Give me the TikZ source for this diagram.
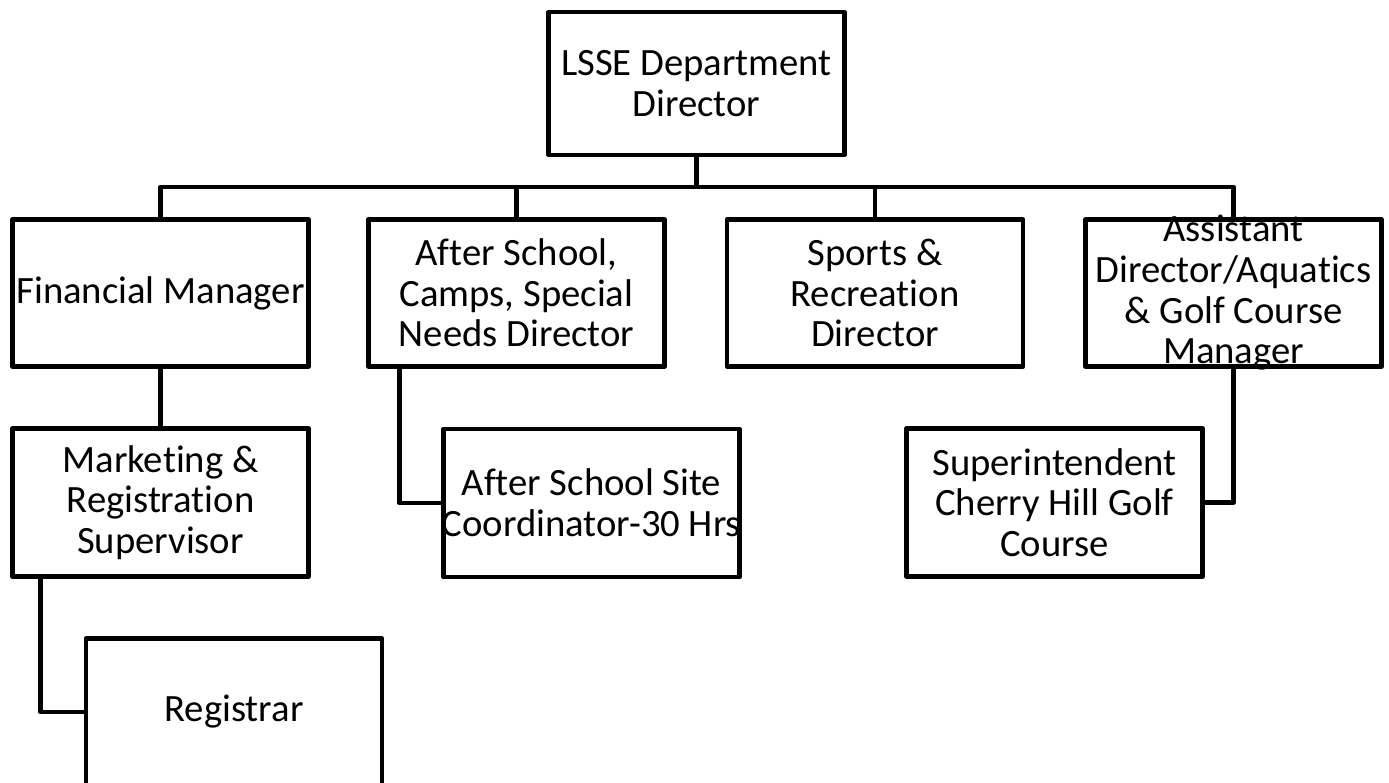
\documentclass[tikz,border=0pt]{standalone}
\usepackage{fontspec}
\setmainfont{Carlito}[Ligatures=CommonOff]
\usetikzlibrary{calc}

% text of a box, centred and free to run over the frame
\newcommand{\boxtext}[1]{\vbox to 0pt{\vss\hsize=222pt\centering
  \leftskip=-20pt plus 1fil\relax\rightskip=-20pt plus 1fil\relax #1\par\vss}}

\tikzset{
  unit/.style={draw, line width=3.4pt, line join=round, inner sep=0pt, minimum width=222pt, minimum height=110pt},
  link/.style={line width=3.4pt, line join=round},
}

\begin{document}
\begin{tikzpicture}[x=0.75pt,y=0.75pt,yscale=-1,xscale=1, font=\fontsize{29}{30.5}\selectfont]
\useasboundingbox (0,0) rectangle (1389,782);

%Shape: Rectangle [id:dir]
\node [unit, minimum height=107pt] (dir) at (696.5,83.5) {\boxtext{LSSE Department\\Director}};

%Shape: Rectangle [id:fin]
\node [unit] (fin) at (160.5,293) {\boxtext{Financial Manager}};
%Shape: Rectangle [id:after]
\node [unit] (after) at (516.5,293) {\boxtext{After School,\\Camps, Special\\Needs Director}};
%Shape: Rectangle [id:sports]
\node [unit] (sports) at (875,293) {\boxtext{Sports \&\\Recreation\\Director}};
%Shape: Rectangle [id:asst]
\node [unit] (asst) at (1233.5,293) {\boxtext{Assistant\\Director/Aquatics\\\& Golf Course\\Manager}};

%Shape: Rectangle [id:mkt]
\node [unit, minimum height=111pt] (mkt) at (160.5,502.5) {\boxtext{Marketing \&\\Registration\\Supervisor}};
%Shape: Rectangle [id:coord]
\node [unit, minimum height=111pt] (coord) at (591.5,503) {\boxtext{After School Site\\\mbox{Coordinator-30 Hrs}}};
%Shape: Rectangle [id:supt]
\node [unit, minimum height=111pt] (supt) at (1054.5,502.5) {\boxtext{Superintendent\\Cherry Hill Golf\\Course}};

%Shape: Rectangle [id:reg]
\node [unit] (reg) at (234,712) {\boxtext{Registrar}};

%Straight Lines [id:bus]
\coordinate (bus) at (696.5,187);
\draw [link] (dir.south) -- (bus);
\draw [link] (fin.north) |- (bus) -| (asst.north);
\draw [link] (after.north) -- (after.north |- bus);
\draw [link] (sports.north) -- (sports.north |- bus);

%Straight Lines [id:below]
\draw [link] (fin.south) -- (mkt.north);
\draw [link] ($(mkt.south west)!0.1!(mkt.south east)$) |- (reg.west);
\draw [link] ($(after.south west)!0.11!(after.south east)$) |- (coord.west);
\draw [link] (asst.south) |- (supt.east);

\end{tikzpicture}
\end{document}
